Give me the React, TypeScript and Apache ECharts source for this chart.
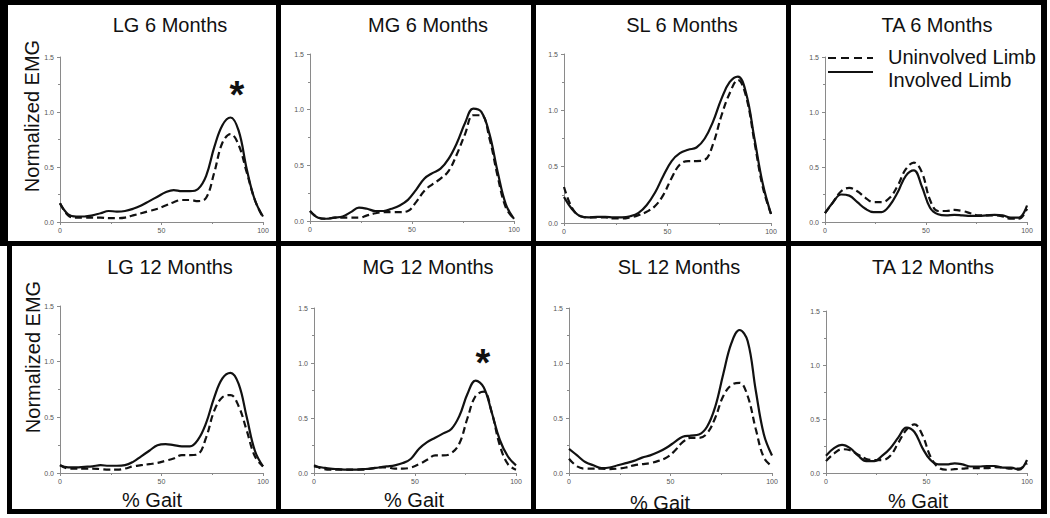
import React, { useEffect, useRef } from "react";
import * as echarts from "echarts";

// % gait sample points shared by every curve
const GAIT = [0, 4, 8, 12, 16, 20, 24, 28, 32, 36, 40, 44, 48, 52, 56, 60, 64, 68, 72, 76, 80, 84, 88, 92, 96, 100];

// Normalized EMG, involved (solid) and uninvolved (dashed) limb
const LG6_INVOLVED = [0.17, 0.07, 0.05, 0.05, 0.06, 0.08, 0.1, 0.095, 0.1, 0.12, 0.15, 0.19, 0.23, 0.27, 0.29, 0.28, 0.28, 0.3, 0.42, 0.68, 0.88, 0.95, 0.83, 0.48, 0.2, 0.05];
const LG6_UNINVOLVED = [0.17, 0.06, 0.04, 0.04, 0.04, 0.04, 0.035, 0.035, 0.04, 0.06, 0.08, 0.1, 0.12, 0.15, 0.18, 0.2, 0.2, 0.19, 0.22, 0.45, 0.72, 0.8, 0.7, 0.45, 0.2, 0.04];
const MG6_INVOLVED = [0.09, 0.03, 0.02, 0.03, 0.04, 0.08, 0.12, 0.11, 0.09, 0.09, 0.11, 0.14, 0.19, 0.28, 0.38, 0.43, 0.47, 0.56, 0.7, 0.88, 1.01, 0.98, 0.78, 0.44, 0.15, 0.02];
const MG6_UNINVOLVED = [0.09, 0.03, 0.02, 0.03, 0.03, 0.03, 0.03, 0.05, 0.07, 0.08, 0.08, 0.08, 0.09, 0.17, 0.27, 0.33, 0.38, 0.45, 0.6, 0.78, 0.95, 0.95, 0.74, 0.4, 0.12, 0.02];
const SL6_INVOLVED = [0.23, 0.12, 0.06, 0.05, 0.055, 0.055, 0.05, 0.05, 0.06, 0.09, 0.16, 0.27, 0.42, 0.55, 0.62, 0.65, 0.67, 0.75, 0.9, 1.1, 1.25, 1.3, 1.15, 0.75, 0.35, 0.08];
const SL6_UNINVOLVED = [0.32, 0.13, 0.06, 0.05, 0.05, 0.05, 0.04, 0.04, 0.05, 0.07, 0.1, 0.15, 0.25, 0.4, 0.52, 0.55, 0.55, 0.56, 0.7, 0.95, 1.15, 1.27, 1.12, 0.72, 0.32, 0.08];
const TA6_INVOLVED = [0.08, 0.18, 0.25, 0.24, 0.18, 0.12, 0.09, 0.09, 0.15, 0.27, 0.42, 0.47, 0.32, 0.13, 0.07, 0.06, 0.065, 0.06, 0.055, 0.055, 0.06, 0.065, 0.06, 0.04, 0.04, 0.15];
const TA6_UNINVOLVED = [0.08, 0.18, 0.28, 0.31, 0.28, 0.22, 0.18, 0.18, 0.22, 0.33, 0.48, 0.54, 0.45, 0.2, 0.1, 0.1, 0.11, 0.1, 0.08, 0.06, 0.06, 0.06, 0.05, 0.03, 0.03, 0.12];
const LG12_INVOLVED = [0.07, 0.05, 0.05, 0.055, 0.06, 0.07, 0.065, 0.065, 0.07, 0.1, 0.15, 0.2, 0.25, 0.26, 0.25, 0.24, 0.24, 0.3, 0.45, 0.68, 0.85, 0.9, 0.8, 0.5, 0.2, 0.06];
const LG12_UNINVOLVED = [0.07, 0.04, 0.04, 0.04, 0.04, 0.035, 0.03, 0.03, 0.04, 0.06, 0.07, 0.08, 0.09, 0.11, 0.13, 0.16, 0.16, 0.17, 0.32, 0.56, 0.68, 0.7, 0.6, 0.38, 0.15, 0.06];
const MG12_INVOLVED = [0.06, 0.05, 0.04, 0.035, 0.03, 0.03, 0.035, 0.04, 0.05, 0.06, 0.07, 0.09, 0.13, 0.22, 0.28, 0.32, 0.36, 0.4, 0.52, 0.72, 0.84, 0.78, 0.55, 0.3, 0.15, 0.07];
const MG12_UNINVOLVED = [0.07, 0.04, 0.03, 0.03, 0.03, 0.03, 0.03, 0.04, 0.05, 0.05, 0.04, 0.04, 0.05, 0.08, 0.12, 0.16, 0.16, 0.18, 0.27, 0.5, 0.7, 0.74, 0.55, 0.25, 0.08, 0.03];
const SL12_INVOLVED = [0.22, 0.16, 0.1, 0.07, 0.045, 0.05, 0.07, 0.09, 0.11, 0.14, 0.16, 0.19, 0.23, 0.28, 0.33, 0.34, 0.35, 0.42, 0.6, 0.9, 1.18, 1.3, 1.2, 0.75, 0.35, 0.16];
const SL12_UNINVOLVED = [0.13, 0.06, 0.04, 0.04, 0.04, 0.035, 0.04, 0.05, 0.07, 0.08, 0.09, 0.11, 0.14, 0.2, 0.28, 0.32, 0.32, 0.36, 0.5, 0.7, 0.8, 0.82, 0.7, 0.4, 0.14, 0.06];
const TA12_INVOLVED = [0.16, 0.23, 0.26, 0.23, 0.16, 0.11, 0.11, 0.16, 0.23, 0.33, 0.42, 0.38, 0.23, 0.12, 0.08, 0.08, 0.09, 0.08, 0.06, 0.06, 0.065, 0.065, 0.05, 0.05, 0.03, 0.12];
const TA12_UNINVOLVED = [0.11, 0.18, 0.22, 0.21, 0.17, 0.13, 0.12, 0.12, 0.16, 0.28, 0.4, 0.45, 0.35, 0.15, 0.05, 0.03, 0.035, 0.04, 0.045, 0.045, 0.045, 0.055, 0.05, 0.04, 0.04, 0.09];

const TITLES = ["LG 6 Months", "MG 6 Months", "SL 6 Months", "TA 6 Months", "LG 12 Months", "MG 12 Months", "SL 12 Months", "TA 12 Months"];
const INVOLVED = [LG6_INVOLVED, MG6_INVOLVED, SL6_INVOLVED, TA6_INVOLVED, LG12_INVOLVED, MG12_INVOLVED, SL12_INVOLVED, TA12_INVOLVED];
const UNINVOLVED = [LG6_UNINVOLVED, MG6_UNINVOLVED, SL6_UNINVOLVED, TA6_UNINVOLVED, LG12_UNINVOLVED, MG12_UNINVOLVED, SL12_UNINVOLVED, TA12_UNINVOLVED];
const LEGEND_LABELS = ["Uninvolved Limb", "Involved Limb"];
const Y_AXIS_LABEL = "Normalized EMG";
const X_AXIS_LABEL = "% Gait";
const SIGNIFICANT_PANELS = [0, 5];

// layout
const GRIDS = [
  { left: 60, top: 57, width: 203, height: 165 },
  { left: 310, top: 54, width: 204, height: 167 },
  { left: 564, top: 54, width: 207, height: 169 },
  { left: 825, top: 57, width: 202, height: 165 },
  { left: 60, top: 306, width: 203, height: 167 },
  { left: 314, top: 308, width: 202, height: 165 },
  { left: 569, top: 308, width: 203, height: 165 },
  { left: 826, top: 311, width: 201, height: 162 },
];
const TITLE_POS = [[170, 25], [428, 25], [682, 25], [937, 25], [170, 267], [428, 267], [679, 267], [933, 267]];
const STAR_POS: Record<number, number[]> = { 0: [237, 89], 5: [483, 357] };
const YNAME_POS = [[32, 116], [33, 357]];
const XNAME_POS = [[152, 500], [414, 500], [660, 503], [918, 501]];

const FONT = "'Liberation Sans', Arial, Helvetica, sans-serif";

function pairs(ys: number[]) {
  return GAIT.map((x, i) => [x, ys[i]]);
}

export default function App() {
  const ref = useRef<HTMLDivElement>(null);
  useEffect(() => {
    if (!ref.current) return;
    const chart = echarts.init(ref.current, null, { renderer: "svg" });
    const axisCommon = {
      axisLine: { show: true, lineStyle: { color: "#8a8a8a", width: 1 } },
      axisTick: { show: true, length: 3, lineStyle: { color: "#8a8a8a" } },
      minorTick: { show: true, splitNumber: 2, length: 2, lineStyle: { color: "#8a8a8a" } },
      splitLine: { show: false },
      axisLabel: { fontSize: 7, color: "#555555", fontFamily: FONT },
    };
    const xAxis = GRIDS.map((_, i) => ({
      ...axisCommon,
      type: "value",
      gridIndex: i,
      min: 0,
      max: 100,
      interval: 50,
      axisLabel: { ...axisCommon.axisLabel, margin: 5 },
    }));
    const yAxis = GRIDS.map((_, i) => ({
      ...axisCommon,
      type: "value",
      gridIndex: i,
      min: 0,
      max: 1.5,
      interval: 0.5,
      axisLabel: { ...axisCommon.axisLabel, margin: 6, formatter: (v: number) => v.toFixed(1) },
    }));
    const series: any[] = [];
    GRIDS.forEach((_, i) => {
      series.push({
        name: LEGEND_LABELS[0],
        type: "line",
        xAxisIndex: i,
        yAxisIndex: i,
        data: pairs(UNINVOLVED[i]),
        smooth: 0.4,
        showSymbol: false,
        lineStyle: { color: "#111", width: 2.2, type: [7, 4] },
      });
      series.push({
        name: LEGEND_LABELS[1],
        type: "line",
        xAxisIndex: i,
        yAxisIndex: i,
        data: pairs(INVOLVED[i]),
        smooth: 0.4,
        showSymbol: false,
        lineStyle: { color: "#111", width: 2.2, type: "solid" },
      });
    });

    const graphic: any[] = [];
    const bar = (x: number, y: number, w: number, h: number) =>
      graphic.push({ type: "rect", shape: { x, y, width: w, height: h }, style: { fill: "#000" }, silent: true });
    // frame
    bar(0, 0, 1047, 5);
    bar(0, 0, 8, 245);
    bar(7, 241, 5, 273);
    bar(7, 509, 1040, 5);
    bar(1041, 0, 6, 514);
    bar(0, 241, 1047, 5);
    bar(276, 0, 5, 514);
    bar(531, 0, 5, 514);
    bar(786, 0, 5, 514);

    TITLES.forEach((t, i) => {
      graphic.push({
        type: "text",
        x: TITLE_POS[i][0],
        y: TITLE_POS[i][1],
        style: { text: t, fontSize: 20, fontFamily: FONT, fill: "#111", align: "center", verticalAlign: "middle" },
      });
    });
    YNAME_POS.forEach((p) => {
      graphic.push({
        type: "text",
        x: p[0],
        y: p[1],
        rotation: Math.PI / 2,
        style: { text: Y_AXIS_LABEL, fontSize: 20, fontFamily: FONT, fill: "#111", align: "center", verticalAlign: "middle" },
      });
    });
    XNAME_POS.forEach((p) => {
      graphic.push({
        type: "text",
        x: p[0],
        y: p[1],
        style: { text: X_AXIS_LABEL, fontSize: 20, fontFamily: FONT, fill: "#111", align: "center", verticalAlign: "middle" },
      });
    });
    SIGNIFICANT_PANELS.forEach((i) => {
      const p = STAR_POS[i];
      graphic.push({
        type: "text",
        x: p[0],
        y: p[1] + 6,
        style: { text: "*", fontSize: 38, fontWeight: "bold", fontFamily: FONT, fill: "#111", align: "center", verticalAlign: "middle" },
      });
    });
    // legend (TA 6 Months panel)
    graphic.push({ type: "line", shape: { x1: 828, y1: 58, x2: 873, y2: 58 }, style: { stroke: "#111", lineWidth: 2, lineDash: [8, 5] } });
    graphic.push({ type: "line", shape: { x1: 828, y1: 72, x2: 873, y2: 72 }, style: { stroke: "#111", lineWidth: 2 } });
    graphic.push({ type: "text", x: 888, y: 57, style: { text: LEGEND_LABELS[0], fontSize: 20, fontFamily: FONT, fill: "#111", align: "left", verticalAlign: "middle" } });
    graphic.push({ type: "text", x: 888, y: 80, style: { text: LEGEND_LABELS[1], fontSize: 20, fontFamily: FONT, fill: "#111", align: "left", verticalAlign: "middle" } });

    chart.setOption({
      animation: false,
      backgroundColor: "#fff",
      grid: GRIDS.map((g) => ({ ...g, containLabel: false })),
      xAxis,
      yAxis,
      series,
      graphic,
    });
    return () => chart.dispose();
  }, []);
  return <div ref={ref} style={{ position: "absolute", left: 0, top: 0, width: 1050, height: 518 }} />;
}
